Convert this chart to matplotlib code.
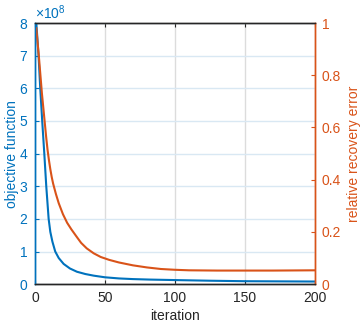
import matplotlib
matplotlib.use('Agg')
import matplotlib.pyplot as plt
from matplotlib.ticker import ScalarFormatter

plt.rcParams['font.family'] = ['Liberation Sans', 'DejaVu Sans']
plt.rcParams['mathtext.fontset'] = 'custom'
plt.rcParams['mathtext.rm'] = 'Liberation Sans'

# objective function
obj_iter = [1, 2.6, 3.8, 5.2, 6.7, 8.1, 9.8, 11, 12.5, 14.5, 17, 20.5, 25, 30, 36, 42,
            50, 60, 70, 82, 100, 125, 150, 175, 200]
obj_val = [8.0e8, 7.0e8, 6.0e8, 5.0e8, 4.0e8, 3.0e8, 2.0e8, 1.6e8, 1.3e8, 1.0e8, 0.8e8,
           0.62e8, 0.48e8, 0.38e8, 0.31e8, 0.26e8, 0.21e8, 0.175e8, 0.155e8, 0.14e8,
           0.125e8, 0.105e8, 0.09e8, 0.085e8, 0.08e8]

# relative recovery error (right axis)
err_iter = [1, 2, 3, 4, 5, 6, 7, 8, 9, 10, 11, 12, 13, 15, 17, 20, 23, 26, 30, 33, 37,
            42, 47, 53, 60, 70, 80, 90, 100, 110, 130, 150, 170, 200]
err_val = [0.98, 0.92, 0.86, 0.795, 0.73, 0.675, 0.62, 0.565, 0.515, 0.475, 0.44, 0.41,
           0.385, 0.345, 0.31, 0.268, 0.235, 0.21, 0.18, 0.158, 0.137, 0.118, 0.104,
           0.093, 0.083, 0.072, 0.064, 0.058, 0.055, 0.053, 0.052, 0.052, 0.052, 0.053]

blue = '#0072BD'
orange = '#D95319'
dark = '#262626'

fig = plt.figure(figsize=(3.6, 3.24), dpi=100)
ax = fig.add_axes([0.097, 0.123, 0.778, 0.806])
ax2 = ax.twinx()

ax.plot(obj_iter, obj_val, color=blue, lw=1.5)
ax2.plot(err_iter, err_val, color=orange, lw=1.5)

ax.set_xlim(0, 200)
ax.set_ylim(0, 8e8)
ax2.set_ylim(0, 1)
ax.set_xticks([0, 50, 100, 150, 200])
ax.set_yticks([i * 1e8 for i in range(9)])
ax2.set_yticks([0, 0.2, 0.4, 0.6, 0.8, 1])
ax2.set_yticklabels(['0', '0.2', '0.4', '0.6', '0.8', '1'])

fmt = ScalarFormatter(useMathText=True)
ax.yaxis.set_major_formatter(fmt)
ax.yaxis.get_offset_text().set_color(blue)
ax.yaxis.get_offset_text().set_fontsize(10)

ax.xaxis.grid(True, color='#dcdcdc', lw=1.0)
ax.yaxis.grid(True, color='#d9e8f3', lw=1.0)
ax.set_axisbelow(True)

ax.tick_params(axis='x', direction='in', length=3, top=True, colors=dark,
               labelsize=10, pad=5)
ax.tick_params(axis='y', direction='in', length=3, colors=blue, labelsize=10, pad=5)
ax2.tick_params(axis='y', direction='in', length=3, colors=orange, labelsize=10, pad=5)

for s in ['top', 'bottom']:
    ax.spines[s].set_color(dark)
    ax2.spines[s].set_color(dark)
ax.spines['left'].set_color(blue)
ax2.spines['left'].set_color(blue)
ax.spines['right'].set_color(orange)
ax2.spines['right'].set_color(orange)
for a in (ax, ax2):
    for s in a.spines.values():
        s.set_linewidth(1.0)

ax.set_xlabel('iteration', fontsize=10, color=dark, labelpad=3)
ax.set_ylabel('objective function', fontsize=10, color=blue, labelpad=0)
ax2.set_ylabel('relative recovery error', fontsize=10, color=orange, labelpad=4)

plt.savefig('out.png', dpi=100)
plt.close()
